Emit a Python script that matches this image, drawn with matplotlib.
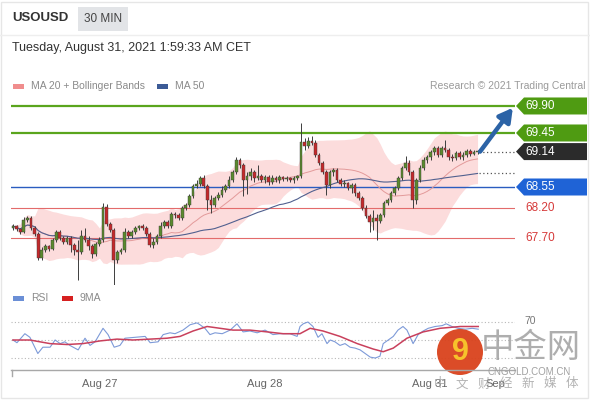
import numpy as np
import pandas as pd
import matplotlib.pyplot as plt
from matplotlib.patches import Rectangle, Polygon, Circle
from matplotlib.lines import Line2D
from matplotlib.transforms import blended_transform_factory

plt.rcParams['font.family'] = ['Liberation Sans', 'Noto Sans CJK SC', 'DejaVu Sans']

# 30 min candles, USOUSD
opens = [67.87, 67.90, 67.85, 67.80, 68.00, 68.03, 67.87, 67.77, 67.37, 67.50,
         67.57, 67.52, 67.67, 67.80, 67.70, 67.63, 67.70, 67.58, 67.50, 67.47,
         67.73, 67.67, 67.57, 67.43, 67.60, 67.67, 68.22, 67.93, 67.83, 67.33,
         67.47, 67.50, 67.80, 67.73, 67.80, 67.87, 67.90, 67.87, 67.77, 67.58,
         67.63, 67.73, 67.90, 67.97, 67.90, 68.10, 68.08, 68.03, 68.20, 68.25,
         68.40, 68.57, 68.60, 68.70, 68.57, 68.33, 68.25, 68.37, 68.42, 68.50,
         68.57, 68.67, 68.80, 69.00, 68.92, 68.67, 68.73, 68.80, 68.70, 68.73,
         68.67, 68.72, 68.63, 68.70, 68.67, 68.72, 68.68, 68.70, 68.67, 68.70,
         68.73, 69.30, 69.23, 69.32, 69.28, 69.08, 68.95, 68.80, 68.58, 68.80,
         68.83, 68.67, 68.60, 68.62, 68.53, 68.58, 68.45, 68.37, 68.20, 68.07,
         67.97, 68.03, 67.98, 68.08, 68.28, 68.33, 68.45, 68.53, 68.70, 68.87,
         68.95, 68.80, 68.33, 68.67, 68.87, 69.00, 69.05, 69.13, 69.20, 69.08,
         69.20, 69.17, 69.05, 69.03, 69.12, 69.05, 69.08, 69.15, 69.10, 69.13]
highs = [67.93, 67.92, 67.87, 68.05, 68.07, 68.07, 67.90, 67.80, 67.55, 67.60,
         67.58, 67.70, 67.83, 67.83, 67.73, 67.73, 67.73, 67.62, 67.67, 67.83,
         67.87, 67.73, 67.60, 67.63, 67.72, 68.28, 68.27, 67.97, 67.87, 67.50,
         67.53, 67.87, 67.83, 67.83, 67.90, 67.92, 67.93, 67.90, 67.80, 67.70,
         67.77, 67.97, 68.00, 68.00, 68.13, 68.13, 68.12, 68.23, 68.28, 68.43,
         68.60, 68.67, 68.73, 68.75, 68.60, 68.42, 68.40, 68.47, 68.57, 68.60,
         68.73, 68.83, 69.05, 69.03, 68.95, 68.80, 68.87, 68.83, 68.92, 68.77,
         68.75, 68.75, 68.75, 68.73, 68.75, 68.73, 68.73, 68.72, 68.73, 68.75,
         69.62, 69.37, 69.38, 69.40, 69.33, 69.12, 68.98, 68.83, 68.83, 68.87,
         68.87, 68.70, 68.67, 68.63, 68.62, 68.62, 68.48, 68.40, 68.25, 68.10,
         68.17, 68.10, 68.12, 68.32, 68.37, 68.48, 68.57, 68.73, 68.90, 69.07,
         69.00, 68.83, 68.70, 68.92, 69.05, 69.08, 69.17, 69.23, 69.23, 69.23,
         69.33, 69.20, 69.10, 69.15, 69.15, 69.13, 69.18, 69.18, 69.17, 69.17]
lows = [67.83, 67.82, 67.77, 67.78, 67.97, 67.83, 67.73, 67.33, 67.33, 67.47,
        67.48, 67.50, 67.63, 67.67, 67.60, 67.60, 67.47, 67.42, 67.00, 67.43,
        67.63, 67.50, 67.37, 67.40, 67.57, 67.63, 67.90, 67.80, 66.92, 67.28,
        67.43, 67.47, 67.70, 67.70, 67.77, 67.83, 67.83, 67.73, 67.55, 67.53,
        67.60, 67.70, 67.87, 67.87, 67.87, 68.03, 68.00, 68.00, 68.17, 68.22,
        68.37, 68.53, 68.57, 68.53, 68.17, 68.12, 68.22, 68.33, 68.38, 68.47,
        68.53, 68.63, 68.77, 68.87, 68.40, 68.43, 68.67, 68.63, 68.67, 68.63,
        68.62, 68.58, 68.60, 68.63, 68.62, 68.65, 68.65, 68.63, 68.62, 68.67,
        68.70, 69.17, 69.20, 69.25, 69.05, 68.92, 68.77, 68.42, 68.53, 68.73,
        68.63, 68.57, 68.55, 68.50, 68.45, 68.40, 68.33, 68.17, 68.03, 67.80,
        67.83, 67.67, 67.95, 68.05, 68.25, 68.30, 68.42, 68.50, 68.67, 68.83,
        68.75, 68.20, 68.27, 68.63, 68.83, 68.95, 69.00, 69.08, 69.05, 69.05,
        69.13, 69.00, 68.98, 69.00, 69.02, 69.00, 69.05, 69.07, 69.08, 69.10]
closes = [67.90, 67.85, 67.80, 68.00, 68.03, 67.87, 67.77, 67.37, 67.50, 67.57,
          67.52, 67.67, 67.80, 67.70, 67.63, 67.70, 67.58, 67.50, 67.47, 67.73,
          67.67, 67.57, 67.43, 67.60, 67.67, 68.22, 67.93, 67.83, 67.33, 67.47,
          67.50, 67.80, 67.73, 67.80, 67.87, 67.90, 67.87, 67.77, 67.58, 67.63,
          67.73, 67.90, 67.97, 67.90, 68.10, 68.08, 68.03, 68.20, 68.25, 68.40,
          68.57, 68.60, 68.70, 68.57, 68.33, 68.25, 68.37, 68.42, 68.50, 68.57,
          68.67, 68.80, 69.00, 68.92, 68.67, 68.73, 68.80, 68.70, 68.73, 68.67,
          68.72, 68.63, 68.70, 68.67, 68.72, 68.68, 68.70, 68.67, 68.70, 68.73,
          69.30, 69.23, 69.32, 69.28, 69.08, 68.95, 68.80, 68.58, 68.80, 68.83,
          68.67, 68.60, 68.62, 68.53, 68.58, 68.45, 68.37, 68.20, 68.07, 67.97,
          68.03, 67.98, 68.08, 68.28, 68.33, 68.45, 68.53, 68.70, 68.87, 68.95,
          68.80, 68.33, 68.67, 68.87, 69.00, 69.05, 69.13, 69.20, 69.08, 69.20,
          69.17, 69.05, 69.03, 69.12, 69.05, 69.08, 69.15, 69.10, 69.13, 69.14]

# RSI readings (candle index -> value) and its 9-period MA
rsi_pos = [0, 1.1, 3.3, 4.7, 6.9, 8.3, 10.3, 11.7, 13.1, 14.4, 15.8, 18.1, 20, 21.4,
           22.8, 25, 26.4, 28.1, 29.7, 31.1, 33.9, 36.7, 38.1, 40.3, 41.7, 43.6, 45,
           47.2, 49.2, 51.1, 51.9, 53.3, 54.7, 56.1, 58.1, 60.3, 62.2, 63.9, 65.8,
           67.8, 70, 72.2, 74.2, 76.9, 78.9, 79.7, 80.6, 81.9, 83.3, 84.7, 85.8, 87.2,
           88.1, 89.4, 90.8, 92.2, 93.6, 95, 96.4, 97.8, 99.2, 100.6, 101.9, 102.8,
           104.2, 105.6, 106.9, 108.3, 109.4, 111.1, 112.5, 113.9, 115.3, 117.2,
           119.2, 120.3, 121.9, 123.6, 125.6, 127.5, 129.2]
rsi_vals = [50, 47, 57, 53, 35, 42, 42, 50, 46, 48, 44, 39, 52, 44,
            48, 63, 56, 42, 44, 52, 53, 54, 47, 48, 56, 58, 57,
            61, 67, 69, 67, 63, 56, 58, 57, 61, 68, 59, 60,
            58, 61, 56, 57, 57, 54, 65, 68, 70, 65, 53, 57, 46,
            50, 48, 44, 46, 42, 41, 39, 35, 31, 30, 32, 46,
            50, 54, 61, 65, 61, 46, 56, 60, 63, 65,
            66, 68, 65, 63, 62, 63, 62]
ma9_pos = [0, 4.7, 10.3, 15, 19.4, 24.2, 28.9, 33.3, 38.1, 42.8, 46.4, 50, 53.9, 57.5,
           61.1, 65.8, 70.6, 75, 79.7, 82.5, 86.1, 90.8, 95.6, 100, 102.8, 105.6,
           109.4, 113.9, 118.6, 124.2, 129.2]
ma9_vals = [50, 50, 46, 45, 46, 49, 51, 50, 51, 52, 54, 60, 65, 63,
            61, 61, 59, 57, 57, 63, 60, 54, 46, 40, 37, 41,
            52, 59, 63, 65, 65]

levels = [69.90, 69.45, 69.14, 68.55, 68.20, 67.70]
level_labels = ['69.90', '69.45', '69.14', '68.55', '68.20', '67.70']
date_pos = [24.2, 70.0, 115.8, 134.0]
date_labels = ['Aug 27', 'Aug 28', 'Aug 31', 'Sep']
target = 69.90

W, H = 590, 400


def fx(x):
    return x / W


def fy(y):
    return 1 - y / H


fig = plt.figure(figsize=(5.9, 4.0), dpi=100)
fig.patch.set_facecolor('white')

# header
fig.text(fx(12), fy(18), 'USOUSD', fontsize=9.5, fontweight='bold', color='#333333', va='center')
fig.add_artist(Rectangle((fx(78), fy(31)), fx(50), 24 / H, transform=fig.transFigure,
                         color='#e2e4e7', lw=0))
fig.text(fx(84), fy(19), '30 MIN', fontsize=8.5, color='#444444', va='center')
fig.add_artist(Line2D([0, 1], [fy(35), fy(35)], color='#eeeeee', lw=1))
fig.text(fx(12), fy(48), 'Tuesday, August 31, 2021 1:59:33 AM CET', fontsize=9,
         color='#333333', va='center')

# legend row
fig.add_artist(Rectangle((fx(13), fy(88.5)), fx(11), 5 / H, transform=fig.transFigure,
                         color='#f08d8d', lw=0))
fig.text(fx(31), fy(86), 'MA 20 + Bollinger Bands', fontsize=7.5, color='#8a8a8a', va='center')
fig.add_artist(Rectangle((fx(157), fy(88.5)), fx(11), 5 / H, transform=fig.transFigure,
                         color='#3c5b96', lw=0))
fig.text(fx(175), fy(86), 'MA 50', fontsize=7.5, color='#8a8a8a', va='center')
fig.text(fx(585), fy(86), 'Research \u00a9 2021 Trading Central', fontsize=7.5,
         color='#9a9a9a', va='center', ha='right')

# main price panel
ax = fig.add_axes([fx(11), fy(285), fx(515 - 11), (285 - 95) / H])
ax.set_xlim(-0.55, 139.4)
ax.set_ylim(66.917, 70.083)
ax.axis('off')

s = pd.Series(closes)
idx = np.arange(len(closes))
ma20 = s.rolling(20, min_periods=1).mean()
sd20 = s.rolling(20, min_periods=1).std(ddof=0)
ma50 = s.rolling(50, min_periods=1).mean()
ax.fill_between(idx, ma20 - 2 * sd20, ma20 + 2 * sd20, color='#fcdcdc', lw=0, zorder=1)
ax.plot(idx, ma20, color='#e39a9a', lw=0.7, zorder=2)
ax.plot(idx, ma50, color='#51608f', lw=0.8, zorder=2)

level_colors = ['#5aa51d', '#5aa51d', None, '#2a5cc0', '#e36b6b', '#e36b6b']
level_widths = [1.6, 1.6, 0, 1.0, 0.8, 0.8]
for lv, col, lw in zip(levels, level_colors, level_widths):
    if col:
        ax.axhline(lv, color=col, lw=lw, zorder=1.5)

o = np.array(opens)
c = np.array(closes)
up = c >= o
ax.vlines(idx, lows, highs, color='#3d3d3d', lw=0.7, zorder=3)
body = np.maximum(np.abs(c - o), 0.012)
ax.bar(idx, body, bottom=np.minimum(o, c), width=0.75,
       color=np.where(up, '#5b8a2e', '#c4292b'), edgecolor='#3a3a3a', lw=0.3, zorder=4)

# dotted extensions
ax.plot([129.5, 139.4], [closes[-1]] * 2, color='#555555', lw=0.9, ls=(0, (1, 2)), zorder=2)
ax.plot([129.5, 139.4], [ma50.iloc[-1]] * 2, color='#555555', lw=0.9, ls=(0, (1, 2)), zorder=2)

# target arrow
ax.annotate('', xy=(138.8, target - 0.03), xytext=(129.7, closes[-1]),
            arrowprops=dict(arrowstyle='-|>,head_length=0.8,head_width=0.45',
                            color='#2c63a6', lw=3.2, shrinkA=0, shrinkB=0), zorder=6)

# right labels
tb = blended_transform_factory(fig.transFigure, ax.transData)
box_colors = ['#4f9b12', '#4f9b12', '#2b2b2b', '#1f63d6', None, None]
hh = 8.5 / 60
for lv, lab, bc in zip(levels, level_labels, box_colors):
    if bc:
        pts = [(fx(516), lv), (fx(524), lv + hh), (fx(587), lv + hh),
               (fx(587), lv - hh), (fx(524), lv - hh)]
        ax.add_patch(Polygon(pts, closed=True, transform=tb, color=bc, lw=0, clip_on=False))
        ax.text(fx(525), lv, lab, transform=tb, fontsize=8.5, color='white', va='center')
    else:
        ax.text(fx(525), lv, lab, transform=tb, fontsize=8.5, color='#d63a3a', va='center')

# RSI legend
fig.add_artist(Rectangle((fx(13), fy(300.5)), fx(11), 5 / H, transform=fig.transFigure,
                         color='#6b8fd6', lw=0))
fig.text(fx(31), fy(298), 'RSI', fontsize=7.5, color='#8a8a8a', va='center')
fig.add_artist(Rectangle((fx(62), fy(300.5)), fx(11), 5 / H, transform=fig.transFigure,
                         color='#d62020', lw=0))
fig.text(fx(80), fy(298), '9MA', fontsize=7.5, color='#8a8a8a', va='center')

# RSI panel
ax2 = fig.add_axes([fx(11), fy(369), fx(515 - 11), (369 - 312) / H])
ax2.set_xlim(-0.55, 139.4)
ax2.set_ylim(17.8, 81.1)
ax2.axis('off')
for g in (30, 50, 70):
    ax2.axhline(g, color='#b8b8b8', lw=0.8, ls=(0, (1, 2)))
ax2.plot(rsi_pos, rsi_vals, color='#7d9ad8', lw=0.8)
ax2.plot(ma9_pos, ma9_vals, color='#c9405c', lw=1.1)
fig.text(fx(524), fy(321), '70', fontsize=7.5, color='#777777', va='center')

fig.add_artist(Line2D([fx(11), fx(515)], [fy(370), fy(370)], color='#a8a8a8', lw=1))
fig.add_artist(Line2D([fx(11.5), fx(11.5)], [fy(370), fy(376)], color='#a8a8a8', lw=1))
tx = blended_transform_factory(ax2.transData, fig.transFigure)
for p, lab in zip(date_pos, date_labels):
    ax2.text(p, fy(384), lab, transform=tx, fontsize=8, color='#666666',
             ha='center', va='center', clip_on=False)

# watermark
fig.add_artist(Circle((4.60, (H - 352) / 100), 0.23, transform=fig.dpi_scale_trans,
                      color='#d9421c', lw=0, alpha=0.95))
fig.text(fx(460), fy(352), '9', fontsize=22, fontweight='bold', color='#f7c22b',
         ha='center', va='center')
fig.text(fx(531), fy(348), '中金网', fontsize=24, color='#9a9a9a', alpha=0.8,
         ha='center', va='center', family=['Noto Sans CJK SC'])
fig.text(fx(529), fy(372), 'CNGOLD.COM.CN', fontsize=7, color='#a0a0a0',
         ha='center', va='center')
for k, ch in enumerate('中文财经新媒体'):
    fig.text(fx(440 + 22 * k), fy(384), ch, fontsize=9, color='#9a9a9a', alpha=0.75,
             ha='center', va='center', family=['Noto Sans CJK SC'])

# frame
fig.add_artist(Rectangle((fx(1), fy(398)), fx(587), 396 / H, transform=fig.transFigure,
                         fill=False, ec='#e6e6e6', lw=1))

fig.savefig('out.png', dpi=100)
